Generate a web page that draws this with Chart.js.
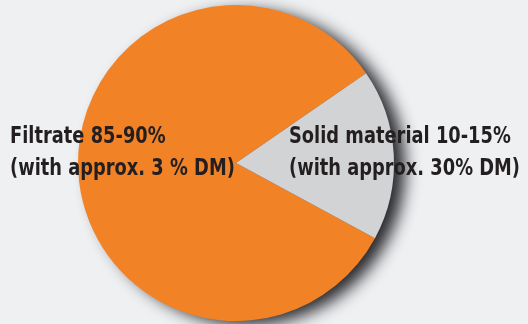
<!DOCTYPE html>
<html>
<head>
<meta charset="utf-8">
<script src="https://cdn.jsdelivr.net/npm/chart.js@4"></script>
<style>
  html, body { margin: 0; padding: 0; background: #eff0f2; }
  #wrap { width: 528px; height: 324px; position: relative; }
</style>
</head>
<body>
<div id="wrap"><canvas id="pie"></canvas></div>
<script>
// Share of separation output
const sliceNames = ["Filtrate", "Solid material"];
const sliceValues = [82.5, 17.5];
const labelLines = [
  ["Filtrate 85-90%", "(with approx. 3 % DM)"],
  ["Solid material 10-15%", "(with approx. 30% DM)"]
];
const sliceColors = ["#f28226", "#d2d3d5"];

// soft drop shadow behind the whole disc
const shadowPlugin = {
  id: 'discShadow',
  beforeDatasetsDraw(chart) {
    const arc = chart.getDatasetMeta(0).data[0];
    if (!arc) return;
    const ctx = chart.ctx;
    ctx.save();
    ctx.shadowColor = 'rgba(30,30,35,0.95)';
    ctx.shadowBlur = 16;
    ctx.shadowOffsetX = 12;
    ctx.shadowOffsetY = 5;
    ctx.fillStyle = '#444448';
    ctx.beginPath();
    ctx.arc(arc.x, arc.y, arc.outerRadius - 1, 0, Math.PI * 2);
    ctx.fill();
    ctx.restore();
  }
};

// text labels, positioned like the original; the original type is a
// condensed face, so squeeze the text horizontally
const labelPos = [[10, 143], [289, 143]];
const textPlugin = {
  id: 'sliceText',
  afterDatasetsDraw(chart) {
    const ctx = chart.ctx;
    ctx.save();
    ctx.font = 'bold 23px "DejaVu Sans", sans-serif';
    ctx.fillStyle = '#231f20';
    ctx.textAlign = 'left';
    ctx.textBaseline = 'alphabetic';
    const squeeze = 231 / ctx.measureText(labelLines[1][1]).width;
    labelLines.forEach((lines, i) => {
      lines.forEach((t, j) => {
        ctx.save();
        ctx.translate(labelPos[i][0], labelPos[i][1] + j * 32);
        ctx.scale(squeeze, 1);
        ctx.fillText(t, 0, 0);
        ctx.restore();
      });
    });
    ctx.restore();
  }
};

new Chart(document.getElementById('pie'), {
  type: 'pie',
  data: {
    labels: sliceNames,
    datasets: [{
      data: sliceValues,
      backgroundColor: sliceColors,
      borderWidth: 0
    }]
  },
  options: {
    responsive: true,
    maintainAspectRatio: false,
    animation: false,
    rotation: 118.4,
    layout: { padding: { left: 78, right: 134, top: 5, bottom: 3 } },
    plugins: {
      legend: { display: false },
      tooltip: { enabled: false }
    }
  },
  plugins: [shadowPlugin, textPlugin]
});
</script>
</body>
</html>
